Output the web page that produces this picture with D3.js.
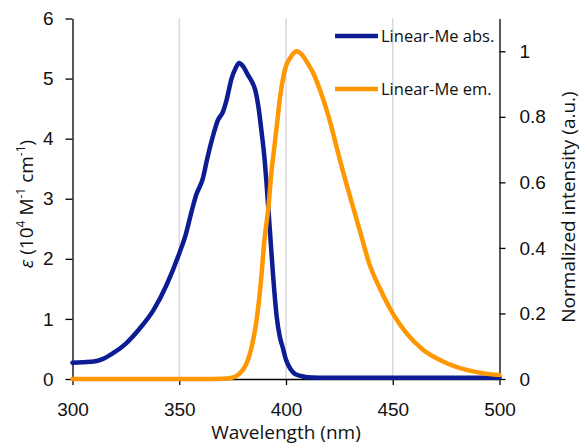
<!DOCTYPE html>
<html>
<head>
<meta charset="utf-8">
<script src="https://cdn.jsdelivr.net/npm/d3@7"></script>
<style>
  html, body { margin: 0; padding: 0; background: #fff; }
  svg { display: block; font-family: "Open Sans", "Noto Sans", sans-serif; }
</style>
</head>
<body>
<svg id="chart" width="581" height="445"></svg>
<script>
// Absorption spectrum: wavelength (nm) and molar absorptivity (10^4 M^-1 cm^-1)
const absWavelength = [300, 305, 310, 314, 319, 325, 331, 338, 344, 350, 353, 356, 358, 361, 363, 366, 368, 370.5, 372, 374.5, 376.5, 378, 380, 382, 384, 385.5, 387, 388.6, 390, 391, 392.5, 394, 395.6, 397, 398.5, 400, 402, 404, 407, 410, 420, 440, 460, 480, 500];
const absEpsilon    = [0.27, 0.28, 0.29, 0.33, 0.43, 0.59, 0.82, 1.15, 1.56, 2.09, 2.40, 2.82, 3.07, 3.33, 3.65, 4.07, 4.30, 4.45, 4.62, 5.00, 5.18, 5.26, 5.20, 5.07, 4.95, 4.82, 4.55, 4.10, 3.65, 3.20, 2.45, 1.70, 1.05, 0.72, 0.52, 0.32, 0.17, 0.09, 0.05, 0.03, 0.02, 0.02, 0.02, 0.02, 0.02];

// Emission spectrum: wavelength (nm) and normalized intensity
const emWavelength = [300, 360, 370, 374, 378, 380, 382, 384, 386, 388, 390, 391.7, 393.3, 394.4, 396, 397.2, 398.7, 400, 402, 404, 405, 406, 408, 410, 413, 416, 420, 424, 427, 431, 435, 439, 444, 450, 456.5, 464, 474, 485, 492, 500];
const emIntensity  = [0, 0, 0.001, 0.003, 0.015, 0.03, 0.055, 0.10, 0.17, 0.28, 0.43, 0.52, 0.64, 0.70, 0.79, 0.86, 0.92, 0.955, 0.98, 0.997, 1.0, 0.998, 0.985, 0.965, 0.93, 0.88, 0.80, 0.70, 0.626, 0.534, 0.443, 0.352, 0.276, 0.20, 0.139, 0.090, 0.052, 0.027, 0.018, 0.012];

// Axis ticks
const xTicks = [300, 350, 400, 450, 500];
const xGrid = [350, 400, 450];
const leftTicks = [0, 1, 2, 3, 4, 5, 6];
const rightTicks = [0, 0.2, 0.4, 0.6, 0.8, 1];

const seriesNames = ["Linear-Me abs.", "Linear-Me em."];
const seriesColors = ["#0c1c93", "#ff9700"];

const svg = d3.select("#chart");
const plotLeft = 72.5, plotRight = 499.5, plotTop = 18.5, plotBottom = 379;

const x = d3.scaleLinear().domain([300, 500]).range([plotLeft, plotRight]);
const yL = d3.scaleLinear().domain([0, 6]).range([plotBottom, plotTop]);
const yR = d3.scaleLinear().domain([0, 1.1]).range([plotBottom, plotTop]);

// vertical gridlines
svg.append("g").selectAll("line").data(xGrid).join("line")
  .attr("x1", d => x(d)).attr("x2", d => x(d))
  .attr("y1", plotTop).attr("y2", plotBottom)
  .attr("stroke", "#d9d9d9").attr("stroke-width", 1.5);

const fontSize = 19;

function styleAxis(g) {
  g.select(".domain").attr("stroke", "#000").attr("stroke-width", 1.3);
  g.selectAll(".tick line").attr("stroke", "#000").attr("stroke-width", 1.3);
  g.selectAll(".tick text").attr("fill", "#111").style("font-size", fontSize + "px");
}

svg.append("g").attr("transform", `translate(0,${plotBottom})`)
  .call(d3.axisBottom(x).tickValues(xTicks).tickSize(6).tickSizeOuter(0).tickPadding(18).tickFormat(d3.format("d")))
  .call(styleAxis);

svg.append("g").attr("transform", `translate(${plotLeft},0)`)
  .call(d3.axisLeft(yL).tickValues(leftTicks).tickSize(7).tickSizeOuter(0).tickPadding(12).tickFormat(d3.format("d")))
  .call(styleAxis);

svg.append("g").attr("transform", `translate(${plotRight},0)`)
  .call(d3.axisRight(yR).tickValues(rightTicks).tickSize(6).tickSizeOuter(0).tickPadding(14).tickFormat(d3.format("~g")))
  .call(styleAxis);

// spectra
const absData = absWavelength.map((w, i) => [w, absEpsilon[i]]);
const emData = emWavelength.map((w, i) => [w, emIntensity[i]]);

const absLine = d3.line().x(d => x(d[0])).y(d => yL(d[1])).curve(d3.curveMonotoneX);
const emLine = d3.line().x(d => x(d[0])).y(d => yR(d[1])).curve(d3.curveMonotoneX);

svg.append("path").datum(absData).attr("d", absLine)
  .attr("fill", "none").attr("stroke", seriesColors[0]).attr("stroke-width", 4.5)
  .attr("stroke-linejoin", "round").attr("stroke-linecap", "round");

svg.append("path").datum(emData).attr("d", emLine)
  .attr("fill", "none").attr("stroke", seriesColors[1]).attr("stroke-width", 4.5)
  .attr("stroke-linejoin", "round").attr("stroke-linecap", "round");

// legend
const legendY = [36, 89];
const legend = svg.append("g");
seriesNames.forEach((name, i) => {
  legend.append("line")
    .attr("x1", 335).attr("x2", 378)
    .attr("y1", legendY[i]).attr("y2", legendY[i])
    .attr("stroke", seriesColors[i]).attr("stroke-width", 4.5);
  legend.append("text")
    .attr("x", 381).attr("y", legendY[i])
    .attr("dy", "0.35em")
    .style("font-size", "16.5px").attr("fill", "#111")
    .text(name);
});

// axis titles
svg.append("text")
  .attr("x", (plotLeft + plotRight) / 2).attr("y", 439)
  .attr("text-anchor", "middle").style("font-size", fontSize + "px").attr("fill", "#111")
  .text("Wavelength (nm)");

const lt = svg.append("text")
  .attr("transform", "translate(33,204) rotate(-90)")
  .attr("text-anchor", "middle").style("font-size", fontSize + "px").attr("fill", "#111");
lt.append("tspan").style("font-style", "italic").text("ε");
lt.append("tspan").text(" (10");
lt.append("tspan").attr("baseline-shift", "super").style("font-size", "12px").text("4");
lt.append("tspan").text(" M");
lt.append("tspan").attr("baseline-shift", "super").style("font-size", "12px").text("-1");
lt.append("tspan").text(" cm");
lt.append("tspan").attr("baseline-shift", "super").style("font-size", "12px").text("-1");
lt.append("tspan").text(")");

svg.append("text")
  .attr("transform", "translate(575,207) rotate(-90)")
  .attr("text-anchor", "middle").style("font-size", fontSize + "px").attr("fill", "#111")
  .text("Normalized intensity (a.u.)");
</script>
</body>
</html>
